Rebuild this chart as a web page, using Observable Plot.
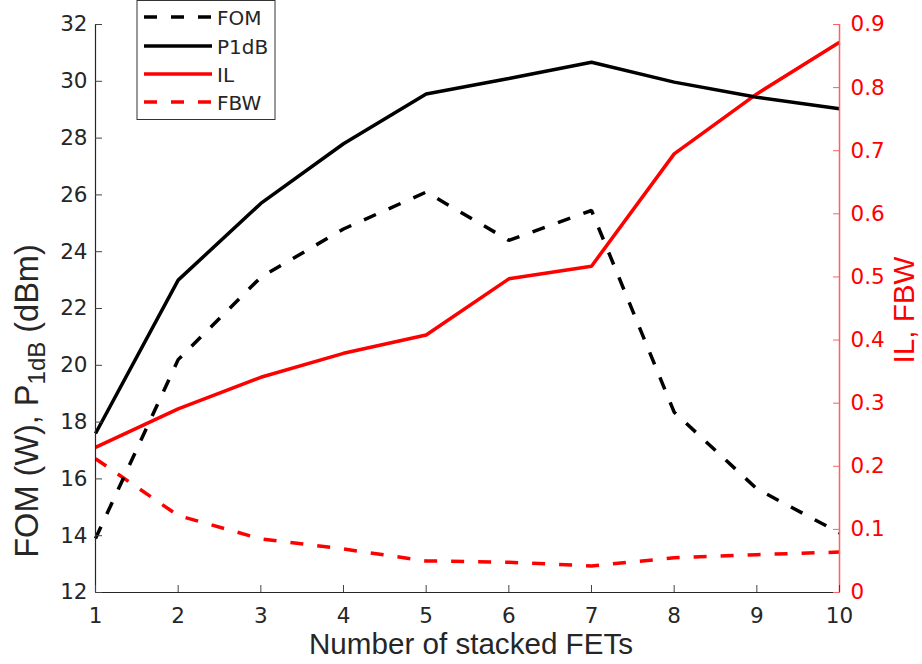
<!DOCTYPE html>
<html>
<head>
<meta charset="utf-8">
<script src="https://cdn.jsdelivr.net/npm/d3@7"></script>
<script src="https://cdn.jsdelivr.net/npm/@observablehq/plot@0.6"></script>
<style>
  body { margin: 0; background: #fff; }
  #chart svg { display: block; }
</style>
</head>
<body>
<div id="chart"></div>
<script>
// Number of stacked FETs on the x axis
const stacks = [1, 2, 3, 4, 5, 6, 7, 8, 9, 10];

// Left axis series: FOM (W) and P1dB (dBm)
const fom  = [13.9, 20.2, 23.1, 24.8, 26.1, 24.4, 25.45, 18.35, 15.65, 14.1];
const p1dB = [17.6, 23.0, 25.7, 27.8, 29.55, 30.1, 30.67, 29.97, 29.44, 29.03];

// Right axis series: IL and FBW
const il  = [0.230, 0.291, 0.341, 0.379, 0.408, 0.497, 0.517, 0.695, 0.790, 0.872];
const fbw = [0.212, 0.122, 0.085, 0.069, 0.050, 0.048, 0.042, 0.055, 0.060, 0.064];

// Tick values
const xTicks = [1, 2, 3, 4, 5, 6, 7, 8, 9, 10];
const leftTicks = [12, 14, 16, 18, 20, 22, 24, 26, 28, 30, 32];
const rightTicks = [0, 0.1, 0.2, 0.3, 0.4, 0.5, 0.6, 0.7, 0.8, 0.9];

// Legend entries
const seriesNames = ["FOM", "P1dB", "IL", "FBW"];

// Both y axes share one scale: right-axis values are mapped onto the left domain
const leftDomain = [12, 32];
const rightDomain = [0, 0.9];
const toLeft = r => leftDomain[0] + (r - rightDomain[0]) * (leftDomain[1] - leftDomain[0]) / (rightDomain[1] - rightDomain[0]);
const toRight = v => rightDomain[0] + (v - leftDomain[0]) * (rightDomain[1] - rightDomain[0]) / (leftDomain[1] - leftDomain[0]);

const rows = (ys, map = v => v) => stacks.map((x, i) => ({x, y: map(ys[i])}));

const ink = "#262626";
const red = "#ff0000";
const redAxis = "#ff6060";
const dash = "13,14";
const lw = 3.5;

const lineOpts = (stroke, dashed) => ({
  x: "x", y: "y", stroke, strokeWidth: lw,
  strokeDasharray: dashed ? dash : null,
  strokeLinecap: "butt", strokeLinejoin: "miter"
});

const chart = Plot.plot({
  width: 922,
  height: 664,
  marginLeft: 95,
  marginRight: 83,
  marginTop: 24,
  marginBottom: 72,
  x: {domain: [1, 10]},
  y: {domain: leftDomain},
  style: {fontFamily: "DejaVu Sans", fontSize: "21.5px", color: ink, background: "#fff"},
  marks: [
    Plot.line(rows(fbw, toLeft), lineOpts(red, true)),
    Plot.line(rows(il, toLeft), lineOpts(red, false)),
    Plot.line(rows(p1dB), lineOpts("#000", false)),
    Plot.line(rows(fom), lineOpts("#000", true)),
    Plot.ruleX([1], {stroke: ink, strokeWidth: 1.2}),
    Plot.ruleY([12], {stroke: ink, strokeWidth: 1.2}),
    Plot.ruleX([10], {stroke: redAxis, strokeWidth: 1.5}),
    Plot.axisX(xTicks, {anchor: "bottom", tickSize: -7, tickPadding: 22, label: null,
      tickFormat: d => String(d), stroke: "#444", fill: ink}),
    Plot.axisY(leftTicks, {anchor: "left", tickSize: -7, tickPadding: 15, label: null,
      tickFormat: d => String(d), stroke: "#444", fill: ink}),
    Plot.axisY(rightTicks.map(toLeft), {anchor: "right", tickSize: -7, tickPadding: 18, label: null,
      tickFormat: d => String(+toRight(d).toFixed(1)), stroke: redAxis, fill: red})
  ]
});

document.getElementById("chart").append(chart);

const svg = d3.select(chart);
const titleFont = "Liberation Sans, Arial, sans-serif";

// x axis title
svg.append("text")
  .attr("x", 471).attr("y", 654)
  .attr("text-anchor", "middle")
  .attr("font-family", titleFont).attr("font-size", 29.6).attr("fill", ink)
  .text("Number of stacked FETs");

// left y axis title with subscript
const yTitle = svg.append("text")
  .attr("transform", "translate(38,401) rotate(-90)")
  .attr("text-anchor", "middle")
  .attr("font-family", titleFont).attr("font-size", 32.5).attr("fill", ink);
yTitle.append("tspan").text("FOM (W), P");
yTitle.append("tspan").attr("dy", 7).attr("font-size", 24).text("1dB");
yTitle.append("tspan").attr("dy", -7).text(" (dBm)");

// right y axis title
svg.append("text")
  .attr("transform", "translate(914,310) rotate(-90)")
  .attr("text-anchor", "middle")
  .attr("font-family", titleFont).attr("font-size", 29.6).attr("fill", red)
  .text("IL, FBW");

// legend
const legend = svg.append("g");
legend.append("rect")
  .attr("x", 137).attr("y", 0.5).attr("width", 138).attr("height", 119)
  .attr("fill", "#fff").attr("stroke", "#333").attr("stroke-width", 1);
const legendStyle = [
  {stroke: "#000", dashed: true},
  {stroke: "#000", dashed: false},
  {stroke: red, dashed: false},
  {stroke: red, dashed: true}
];
const legendY = [17, 46, 74, 102];
seriesNames.forEach((name, i) => {
  legend.append("line")
    .attr("x1", 144).attr("x2", 212)
    .attr("y1", legendY[i]).attr("y2", legendY[i])
    .attr("stroke", legendStyle[i].stroke).attr("stroke-width", lw)
    .attr("stroke-dasharray", legendStyle[i].dashed ? dash : null);
  legend.append("text")
    .attr("x", 217).attr("y", legendY[i] + 8)
    .attr("text-anchor", "start")
    .attr("font-family", "DejaVu Sans").attr("font-size", 20).attr("fill", ink)
    .text(name);
});
</script>
</body>
</html>
